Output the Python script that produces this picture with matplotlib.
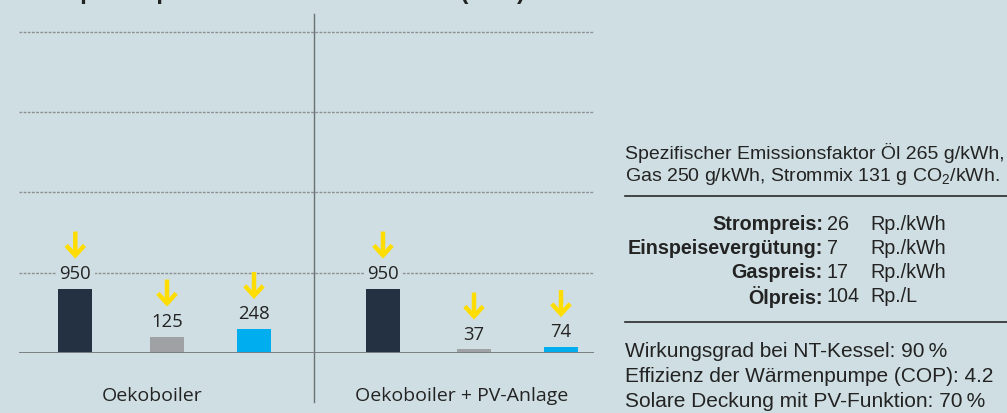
import matplotlib
matplotlib.use("Agg")
import matplotlib.pyplot as plt
from matplotlib.lines import Line2D
from matplotlib.transforms import offset_copy

# ---------------- data ----------------
groups = ["Oekoboiler", "Oekoboiler + PV-Anlage"]
series_colors = ["#243142", "#a0a1a5", "#00aeef"]
# visual bar heights (in the 950-bar scale)
heights_g1 = [950, 243, 354]
heights_g2 = [950, 52, 88]
# printed value labels
labels_g1 = ["950", "125", "248"]
labels_g2 = ["950", "37", "74"]
grid_levels = [1184, 2368, 3552, 4736]

note_top = ["Spezifischer Emissionsfaktor Öl 265 g/kWh,",
            "Gas 250 g/kWh, Strommix 131 g CO$_\\mathregular{2}$/kWh."]
price_names = ["Strompreis:", "Einspeisevergütung:", "Gaspreis:", "Ölpreis:"]
price_values = ["26", "7", "17", "104"]
price_units = ["Rp./kWh", "Rp./kWh", "Rp./kWh", "Rp./L"]
note_bottom = ["Wirkungsgrad bei NT-Kessel: 90\u2009%",
               "Effizienz der Wärmenpumpe (COP): 4.2",
               "Solare Deckung mit PV-Funktion: 70\u2009%"]
title = "Total pro Kopf und Jahr in CH-Franken (CHF)"

# ---------------- style ----------------
BG = "#cfdee2"
TXT = "#232323"
YELLOW = "#ffdd00"
plt.rcParams["mathtext.fontset"] = "custom"
plt.rcParams["mathtext.rm"] = "Liberation Sans"

W, H = 1007, 414
fig = plt.figure(figsize=(W / 100, H / 100), dpi=100, facecolor=BG)

def fx(px):
    return px / W

def fy(py):
    return 1 - py / H

ax = fig.add_axes([fx(19), fy(354), fx(575), (354 - 14.6) / H])
ax.set_facecolor(BG)
ax.set_xlim(0, 5.75)
ax.set_ylim(0, 5000)
ax.axis("off")

for g in grid_levels:
    ax.axhline(g, color="#8c9194", lw=1.0, ls=(0, (2, 1)), zorder=1)

bar_pos = [[0.563, 1.48, 2.35], [3.64, 4.55, 5.42]]
all_heights = [heights_g1, heights_g2]
all_labels = [labels_g1, labels_g2]

lab_trans = offset_copy(ax.transData, fig=fig, y=11.2, units="points")
tip_trans = offset_copy(ax.transData, fig=fig, y=21.5, units="points")
tail_trans = offset_copy(ax.transData, fig=fig, y=41.0, units="points")

for gi in range(2):
    for i, (x, h, lab) in enumerate(zip(bar_pos[gi], all_heights[gi], all_labels[gi])):
        ax.bar(x, h, width=0.34, color=series_colors[i], zorder=3)
        ax.text(x, h, lab, transform=lab_trans, ha="center", va="center",
                fontsize=13.3, family="Open Sans", color=TXT, zorder=4,
                bbox=dict(facecolor=BG, edgecolor="none", pad=2.5))
        ax.annotate("", xy=(x, h), xycoords=tip_trans,
                    xytext=(x, h), textcoords=tail_trans,
                    arrowprops=dict(arrowstyle="->,head_length=0.72,head_width=0.66",
                                    mutation_scale=10, lw=3.2, color=YELLOW,
                                    shrinkA=0, shrinkB=0, joinstyle="miter",
                                    capstyle="butt"),
                    zorder=5)

# baseline and separator
ax.axhline(0, color="#7a7f82", lw=1.4, zorder=4)
ax.axvline(2.95, ymin=-(403 - 354) / 339.4, ymax=1.0, color="#6b7073",
           lw=1.0, clip_on=False, zorder=2)

group_x = [1.33, 4.43]
for gx, name in zip(group_x, groups):
    ax.annotate(name, xy=(gx, -(396 - 354) / 339.4), xycoords=("data", "axes fraction"),
                ha="center", va="center", fontsize=14, family="Open Sans", color=TXT,
                annotation_clip=False)

# title, almost entirely above the top edge (as in the reference)
fig.text(fx(19), fy(-1.5), title, ha="left", va="baseline", fontsize=17,
         fontweight="bold", family="Liberation Sans", color=TXT)

# right-hand notes
RF = "Liberation Sans"
for txt, py in zip(note_top, [153, 177]):
    fig.text(fx(625), fy(py), txt, ha="left", va="center", fontsize=14.0,
             family=RF, color=TXT)

for py in [197, 323]:
    fig.add_artist(Line2D([fx(625), 1.0], [fy(py), fy(py)], color="#2a2a2a",
                          lw=1.2, transform=fig.transFigure))

PS = 14.2
for name, val, unit, py in zip(price_names, price_values, price_units,
                               [225, 249, 273, 297]):
    fig.text(fx(823), fy(py), name, ha="right", va="center", fontsize=PS,
             family=RF, fontweight="bold", color=TXT)
    fig.text(fx(827), fy(py), val, ha="left", va="center", fontsize=PS,
             family=RF, color=TXT)
    fig.text(fx(870), fy(py), unit, ha="left", va="center", fontsize=PS,
             family=RF, color=TXT)

for txt, py in zip(note_bottom, [352, 377, 402]):
    fig.text(fx(625), fy(py), txt, ha="left", va="center", fontsize=15.0,
             family=RF, color=TXT)

fig.savefig("out.png", dpi=100, facecolor=BG)
